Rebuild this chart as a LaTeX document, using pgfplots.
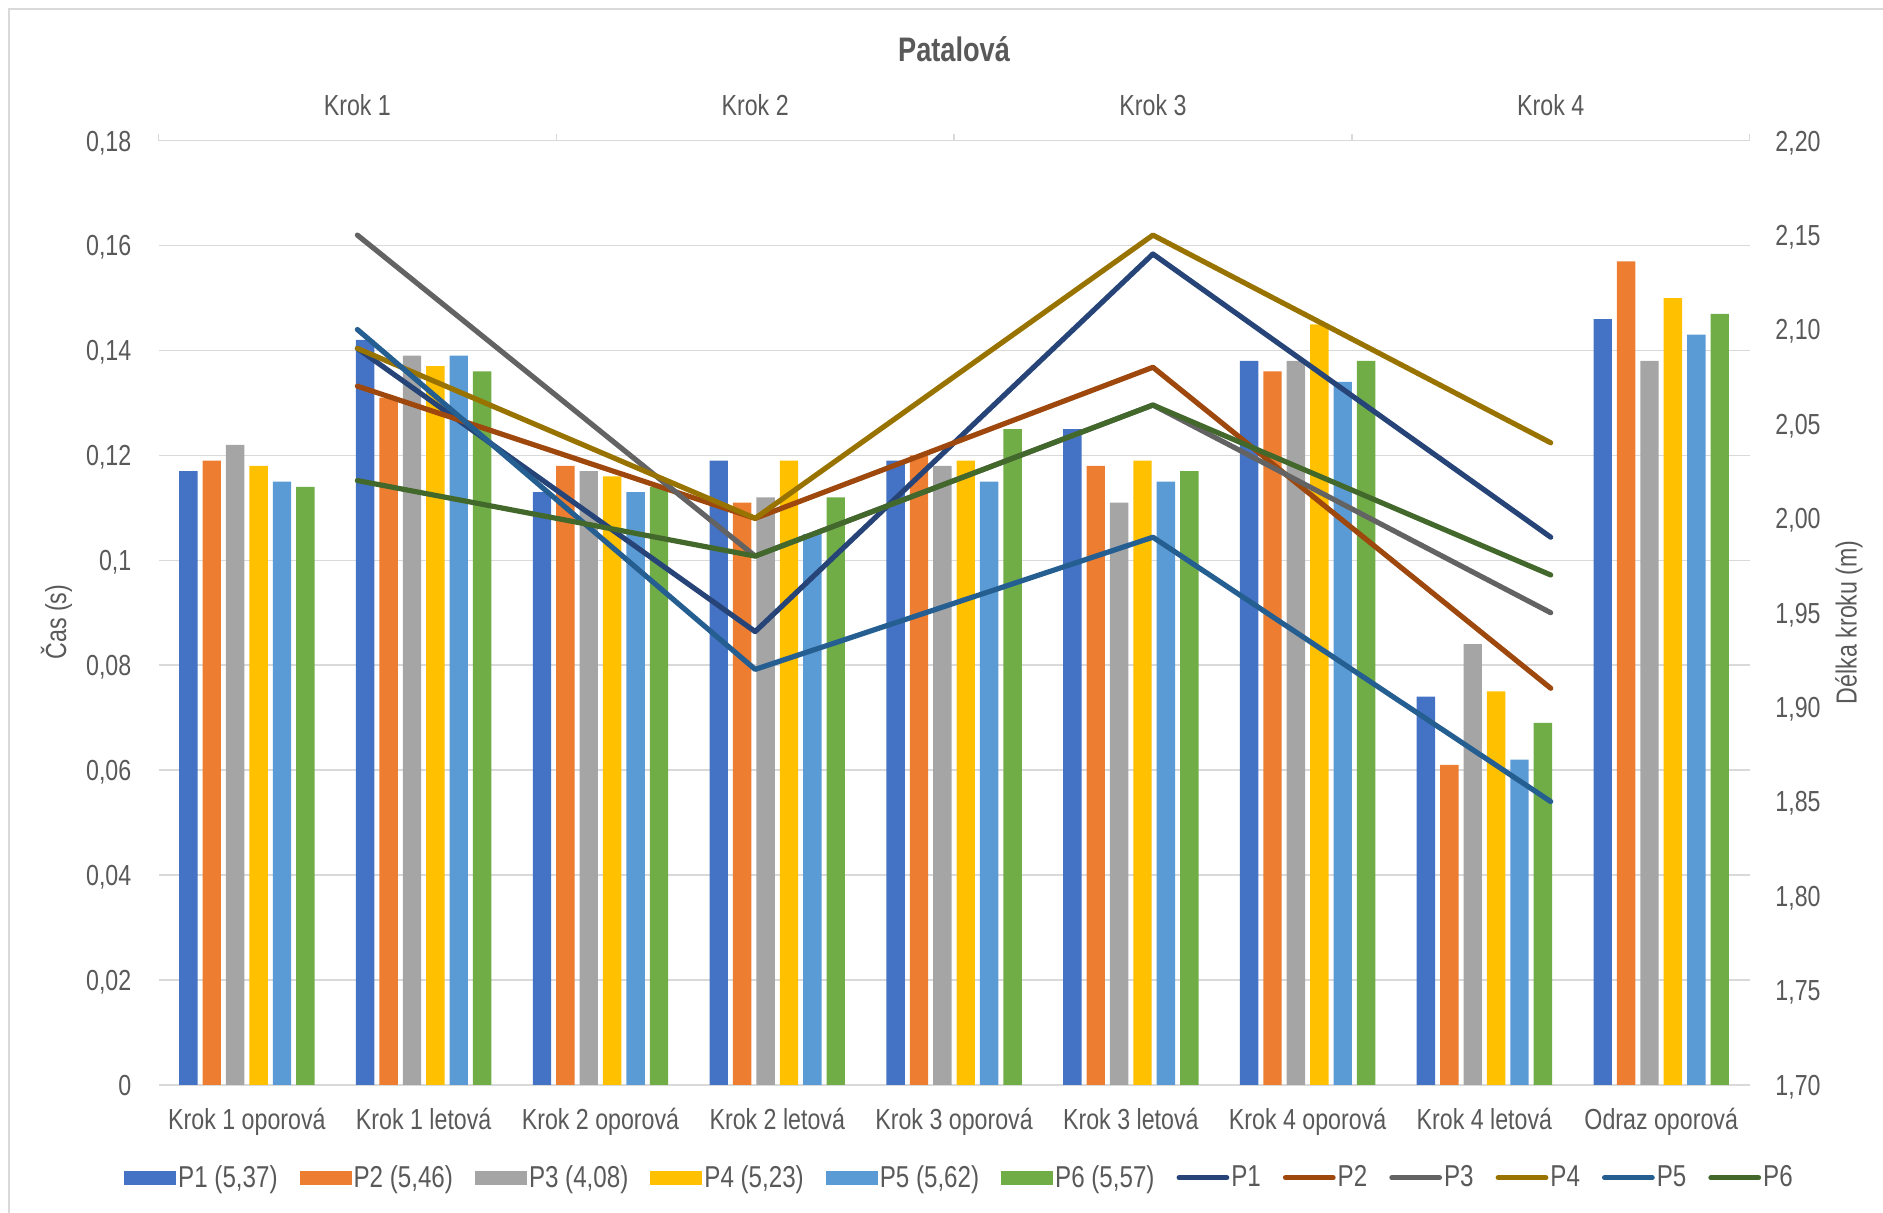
\documentclass[border=0pt]{standalone}
\usepackage{fontspec}
\setmainfont{Liberation Sans}[FakeStretch=0.8]
\usepackage{pgfplots}
\pgfplotsset{compat=1.18}
\usepackage{pgfplotstable}

\definecolor{txt}{HTML}{595959}
\definecolor{grd}{HTML}{D9D9D9}
\definecolor{b1}{HTML}{4472C4}
\definecolor{b2}{HTML}{ED7D31}
\definecolor{b3}{HTML}{A5A5A5}
\definecolor{b4}{HTML}{FFC000}
\definecolor{b5}{HTML}{5B9BD5}
\definecolor{b6}{HTML}{70AD47}
\definecolor{l1}{HTML}{264478}
\definecolor{l2}{HTML}{9E480E}
\definecolor{l3}{HTML}{636363}
\definecolor{l4}{HTML}{997300}
\definecolor{l5}{HTML}{255E91}
\definecolor{l6}{HTML}{43682B}

\newcommand\lbl{\fontsize{14.5pt}{17pt}\selectfont}
\newcommand\leg{\fontsize{15.1pt}{18pt}\selectfont}

\pgfplotstableread{
x P1 P2 P3 P4 P5 P6
0.5 0.117 0.119 0.122 0.118 0.115 0.114
1.5 0.142 0.131 0.139 0.137 0.139 0.136
2.5 0.113 0.118 0.117 0.116 0.113 0.114
3.5 0.119 0.111 0.112 0.119 0.105 0.112
4.5 0.119 0.120 0.118 0.119 0.115 0.125
5.5 0.125 0.118 0.111 0.119 0.115 0.117
6.5 0.138 0.136 0.138 0.145 0.134 0.138
7.5 0.074 0.061 0.084 0.075 0.062 0.069
8.5 0.146 0.157 0.138 0.150 0.143 0.147
}\bars

\pgfplotstableread{
x P1 P2 P3 P4 P5 P6
1.125 2.09 2.07 2.15 2.09 2.10 2.02
3.375 1.94 2.00 1.98 2.00 1.92 1.98
5.625 2.14 2.08 2.06 2.15 1.99 2.06
7.875 1.99 1.91 1.95 2.04 1.85 1.97
}\lines

\pgfplotsset{
  barleg/.style={legend image code/.code={\path[draw=none, fill=#1] (0pt,-3.5pt) rectangle (26pt,3.5pt);}},
  lineleg/.style={legend image code/.code={\draw[line cap=round] (1.3pt,0pt) -- (25.1pt,0pt);}},
  ln/.style={#1, line width=2.6pt, line cap=round, line join=round, lineleg},
}

\begin{document}
\begin{tikzpicture}
\path[use as bounding box] (-79.25pt,-64pt) rectangle (862.2pt,542.35pt);
\draw[grd, line width=0.75pt] (-74.75pt,-80pt) -- (-74.75pt,537.85pt) -- (880pt,537.85pt);

\begin{axis}[
  scale only axis, width=795.5pt, height=472pt,
  xmin=0, xmax=9, ymin=0, ymax=0.18,
  axis x line*=bottom, axis y line*=left,
  x axis line style={grd, line width=0.75pt, -},
  y axis line style={draw=none},
  major tick length=0pt,
  xtick={0.5,1.5,2.5,3.5,4.5,5.5,6.5,7.5,8.5},
  xticklabels={Krok 1 oporová, Krok 1 letová, Krok 2 oporová, Krok 2 letová, Krok 3 oporová, Krok 3 letová, Krok 4 oporová, Krok 4 letová, Odraz oporová},
  xtick style={draw=none}, ytick style={draw=none},
  ytick={0,0.02,0.04,0.06,0.08,0.1,0.12,0.14,0.16,0.18},
  yticklabels={0,{0,02},{0,04},{0,06},{0,08},{0,1},{0,12},{0,14},{0,16},{0,18}},
  ymajorgrids, grid style={grd, line width=0.75pt},
  /pgf/number format/assume math mode=true,
  ticklabel style={font=\lbl, text=txt, inner sep=0pt},
  xticklabel style={anchor=base, yshift=-22.5pt},
  yticklabel style={anchor=base east, xshift=-13.4pt, yshift=-5.2pt},
  ylabel={Čas (s)},
  every axis y label/.style={at={([xshift=-51pt]axis description cs:0,0.49)}, rotate=90, anchor=center, font=\lbl, text=txt},
  ybar=2.5pt, bar width=9.2pt,
]
\addplot[fill=b1, draw=none] table[x=x, y=P1]{\bars};
\addplot[fill=b2, draw=none] table[x=x, y=P2]{\bars};
\addplot[fill=b3, draw=none] table[x=x, y=P3]{\bars};
\addplot[fill=b4, draw=none] table[x=x, y=P4]{\bars};
\addplot[fill=b5, draw=none] table[x=x, y=P5]{\bars};
\addplot[fill=b6, draw=none] table[x=x, y=P6]{\bars};
\end{axis}

\begin{axis}[
  scale only axis, width=795.5pt, height=472pt,
  xmin=0, xmax=9, ymin=1.7, ymax=2.2,
  axis x line*=top, axis y line*=right,
  x axis line style={grd, line width=0.75pt, -},
  y axis line style={draw=none},
  xtick={1.125,3.375,5.625,7.875},
  xticklabels={Krok 1, Krok 2, Krok 3, Krok 4},
  minor xtick={0,2.25,4.5,6.75,9},
  major tick length=0pt, minor tick length=3.5pt, tick align=outside,
  minor tick style={grd, line width=0.75pt},
  ytick={1.7,1.75,1.8,1.85,1.9,1.95,2.0,2.05,2.1,2.15,2.2},
  yticklabels={{1,70},{1,75},{1,80},{1,85},{1,90},{1,95},{2,00},{2,05},{2,10},{2,15},{2,20}},
  ytick style={draw=none},
  /pgf/number format/assume math mode=true,
  ticklabel style={font=\lbl, text=txt, inner sep=0pt},
  xticklabel style={anchor=base, yshift=12.85pt},
  yticklabel style={anchor=base west, xshift=12.7pt, yshift=-5.2pt},
  ylabel={Délka kroku (m)},
  every axis y label/.style={at={([xshift=49.7pt]axis description cs:1,0.49)}, rotate=90, anchor=center, font=\lbl, text=txt},
  title={Patalová},
  every axis title/.style={at={([yshift=45.8pt]axis description cs:0.5,1)}, anchor=center, font=\fontsize{17pt}{20pt}\selectfont\bfseries, text=txt},
  legend columns=12,
  legend style={at={(0.5034,-0.0985)}, anchor=center, draw=none, fill=none, font=\leg, text=txt,
    /tikz/every even column/.append style={column sep=10pt},
    nodes={inner xsep=1pt, inner ysep=0pt}},
  legend cell align=left,
]
\addlegendimage{barleg=b1}\addlegendentry{P1 (5,37)}
\addlegendimage{barleg=b2}\addlegendentry{P2 (5,46)}
\addlegendimage{barleg=b3}\addlegendentry{P3 (4,08)}
\addlegendimage{barleg=b4}\addlegendentry{P4 (5,23)}
\addlegendimage{barleg=b5}\addlegendentry{P5 (5,62)}
\addlegendimage{barleg=b6}\addlegendentry{P6 (5,57)}
\addplot[ln=l1] table[x=x, y=P1]{\lines};
\addlegendentry{P1}
\addplot[ln=l2] table[x=x, y=P2]{\lines};
\addlegendentry{P2}
\addplot[ln=l3] table[x=x, y=P3]{\lines};
\addlegendentry{P3}
\addplot[ln=l4] table[x=x, y=P4]{\lines};
\addlegendentry{P4}
\addplot[ln=l5] table[x=x, y=P5]{\lines};
\addlegendentry{P5}
\addplot[ln=l6] table[x=x, y=P6]{\lines};
\addlegendentry{P6}
\end{axis}
\end{tikzpicture}
\end{document}
